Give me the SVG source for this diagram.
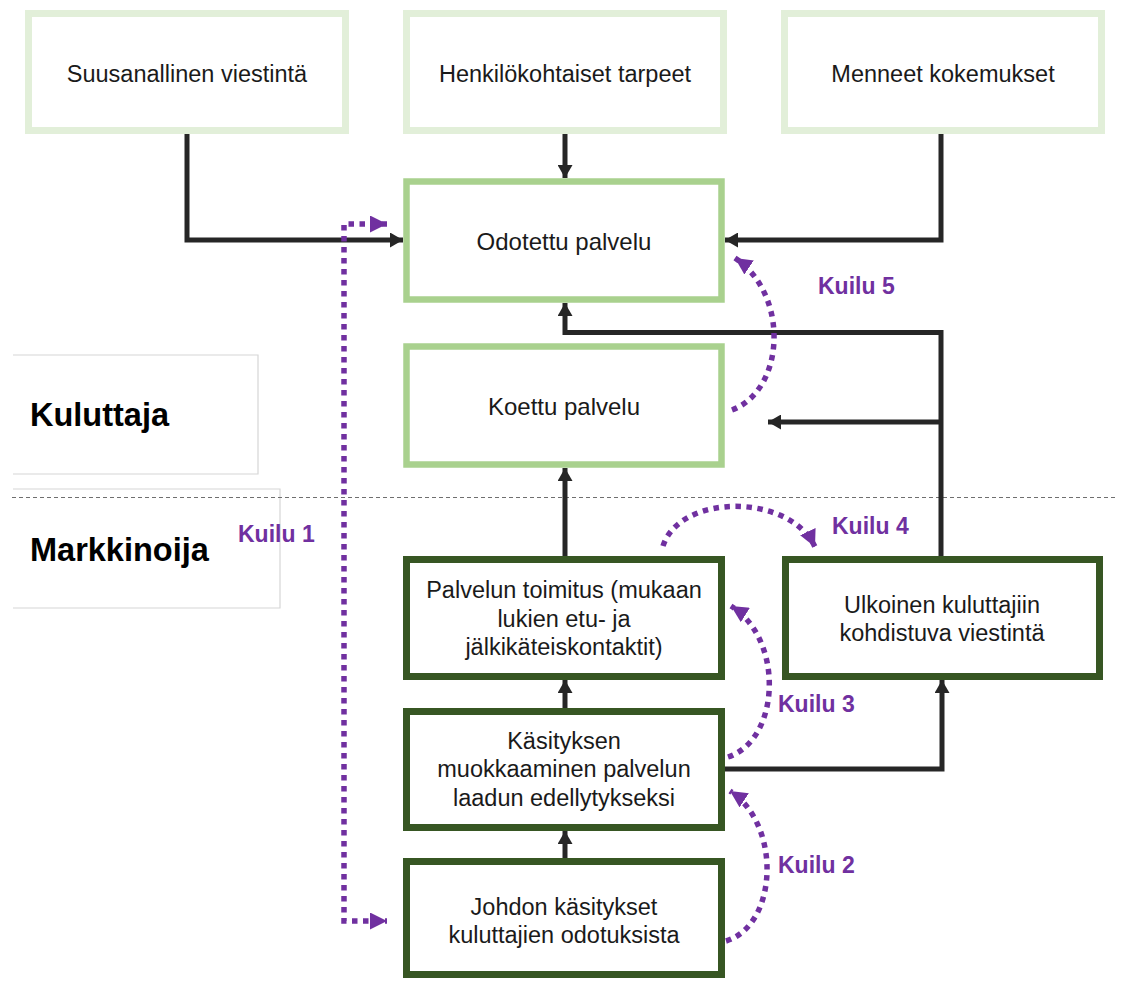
<svg xmlns="http://www.w3.org/2000/svg" width="1126" height="981" viewBox="0 0 1126 981">
  <style>
    .t { font-family: "Liberation Sans", Arial, sans-serif; fill: #1a1a1a; text-anchor: middle; }
    .t22 { font-size: 24px; }
    .t23 { font-size: 23.5px; }
    .lane { font-family: "Liberation Sans", Arial, sans-serif; font-weight: bold; font-size: 32.5px; fill: #000; }
    .gap { font-family: "Liberation Sans", Arial, sans-serif; font-weight: bold; font-size: 23px; fill: #7030a0; }
    .src { fill: #fff; stroke: #e2efd9; stroke-width: 7; }
    .cons { fill: #fff; stroke: #a9d18e; stroke-width: 6.5; }
    .mkt { fill: #fff; stroke: #375623; stroke-width: 7; }
    .flow { fill: none; stroke: #262626; stroke-width: 5; stroke-linejoin: miter; marker-end: url(#ah); }
    .dot { fill: none; stroke: #7030a0; stroke-width: 5.5; stroke-dasharray: 5.5 5.5; }
  </style>
  <defs>
    <marker id="ah" markerUnits="userSpaceOnUse" markerWidth="14" markerHeight="15" refX="13" refY="7.5" orient="auto">
      <path d="M0,0 L13,7.5 L0,15 z" fill="#262626"/>
    </marker>
    <marker id="ph" markerUnits="userSpaceOnUse" markerWidth="18" markerHeight="17" refX="17" refY="8.5" orient="auto-start-reverse">
      <path d="M0,0 L17,8.5 L0,17 z" fill="#7030a0"/>
    </marker>
  </defs>

  <rect width="1126" height="981" fill="#fff"/>

  <!-- lane labels and separator -->
  <g id="lane-kuluttaja">
    <path d="M13 355 H258 V474 H13" fill="none" stroke="#d6d6d6" stroke-width="1.2"/>
    <text class="lane" x="30" y="426">Kuluttaja</text>
  </g>
  <g id="lane-markkinoija">
    <path d="M13 489 H280 V608 H13" fill="none" stroke="#d6d6d6" stroke-width="1.2"/>
    <text class="lane" x="30" y="561">Markkinoija</text>
  </g>
  <line id="separator" x1="12" y1="497.5" x2="1118" y2="497.5" stroke="#6f6f6f" stroke-width="1.2" stroke-dasharray="4 3"/>

  <!-- connectors -->
  <g id="connectors">
    <path class="flow" d="M187 134 V240 H403"/>
    <path class="flow" d="M565 134 V178"/>
    <path class="flow" d="M941 134 V240 H725"/>
    <path class="flow" d="M941 556 V332.5 H565 V303"/>
    <path class="flow" d="M941 422 H768"/>
    <path class="flow" d="M565 556 V468"/>
    <path class="flow" d="M565 708 V680"/>
    <path class="flow" d="M565 858 V831"/>
    <path class="flow" d="M725 769 H942 V680"/>

    <!-- gap arrows -->
    <path class="dot" d="M387 224 H344 V921 H387" marker-start="url(#ph)" marker-end="url(#ph)"/>
    <path class="dot" d="M732 410 C785 390, 790 295, 735 258" marker-end="url(#ph)"/>
    <path class="dot" d="M663 546 C680 493, 790 493, 815 547" marker-end="url(#ph)"/>
    <path class="dot" d="M728 757 C780 740, 785 640, 731 606" marker-end="url(#ph)"/>
    <path class="dot" d="M726 941 C778 925, 782 825, 730 791" marker-end="url(#ph)"/>
  </g>

  <!-- gap labels -->
  <g id="gap-labels">
    <text class="gap" x="238" y="542">Kuilu 1</text>
    <text class="gap" x="778" y="873">Kuilu 2</text>
    <text class="gap" x="778" y="712">Kuilu 3</text>
    <text class="gap" x="832" y="534">Kuilu 4</text>
    <text class="gap" x="818" y="294">Kuilu 5</text>
  </g>

  <!-- consumer-side sources -->
  <g id="suusanallinen">
    <rect class="src" x="28.5" y="13.5" width="317" height="117"/>
    <text class="t t23" x="187" y="82">Suusanallinen viestintä</text>
  </g>
  <g id="henkilokohtaiset">
    <rect class="src" x="406.5" y="13.5" width="317" height="117"/>
    <text class="t t23" x="565" y="82">Henkilökohtaiset tarpeet</text>
  </g>
  <g id="menneet">
    <rect class="src" x="784.5" y="13.5" width="317" height="117"/>
    <text class="t t23" x="943" y="82">Menneet kokemukset</text>
  </g>

  <!-- consumer-side service -->
  <g id="odotettu">
    <rect class="cons" x="406.5" y="181.5" width="315" height="118"/>
    <text class="t t22" x="564" y="250">Odotettu palvelu</text>
  </g>
  <g id="koettu">
    <rect class="cons" x="406.5" y="346.5" width="315" height="118"/>
    <text class="t t22" x="564" y="415">Koettu palvelu</text>
  </g>

  <!-- marketer side -->
  <g id="palvelun-toimitus">
    <rect class="mkt" x="406.5" y="559.5" width="315" height="117"/>
    <text class="t t23" x="564" y="598">Palvelun toimitus (mukaan</text>
    <text class="t t23" x="564" y="627">lukien etu- ja</text>
    <text class="t t23" x="564" y="655">jälkikäteiskontaktit)</text>
  </g>
  <g id="ulkoinen">
    <rect class="mkt" x="785.5" y="559.5" width="314" height="117"/>
    <text class="t t23" x="942" y="613">Ulkoinen kuluttajiin</text>
    <text class="t t23" x="942" y="641">kohdistuva viestintä</text>
  </g>
  <g id="kasityksen">
    <rect class="mkt" x="406.5" y="711.5" width="315" height="116"/>
    <text class="t t23" x="564" y="749">Käsityksen</text>
    <text class="t t23" x="564" y="777">muokkaaminen palvelun</text>
    <text class="t t23" x="564" y="806">laadun edellytykseksi</text>
  </g>
  <g id="johdon">
    <rect class="mkt" x="406.5" y="861.5" width="315" height="113"/>
    <text class="t t23" x="564" y="915">Johdon käsitykset</text>
    <text class="t t23" x="564" y="943">kuluttajien odotuksista</text>
  </g>
</svg>
